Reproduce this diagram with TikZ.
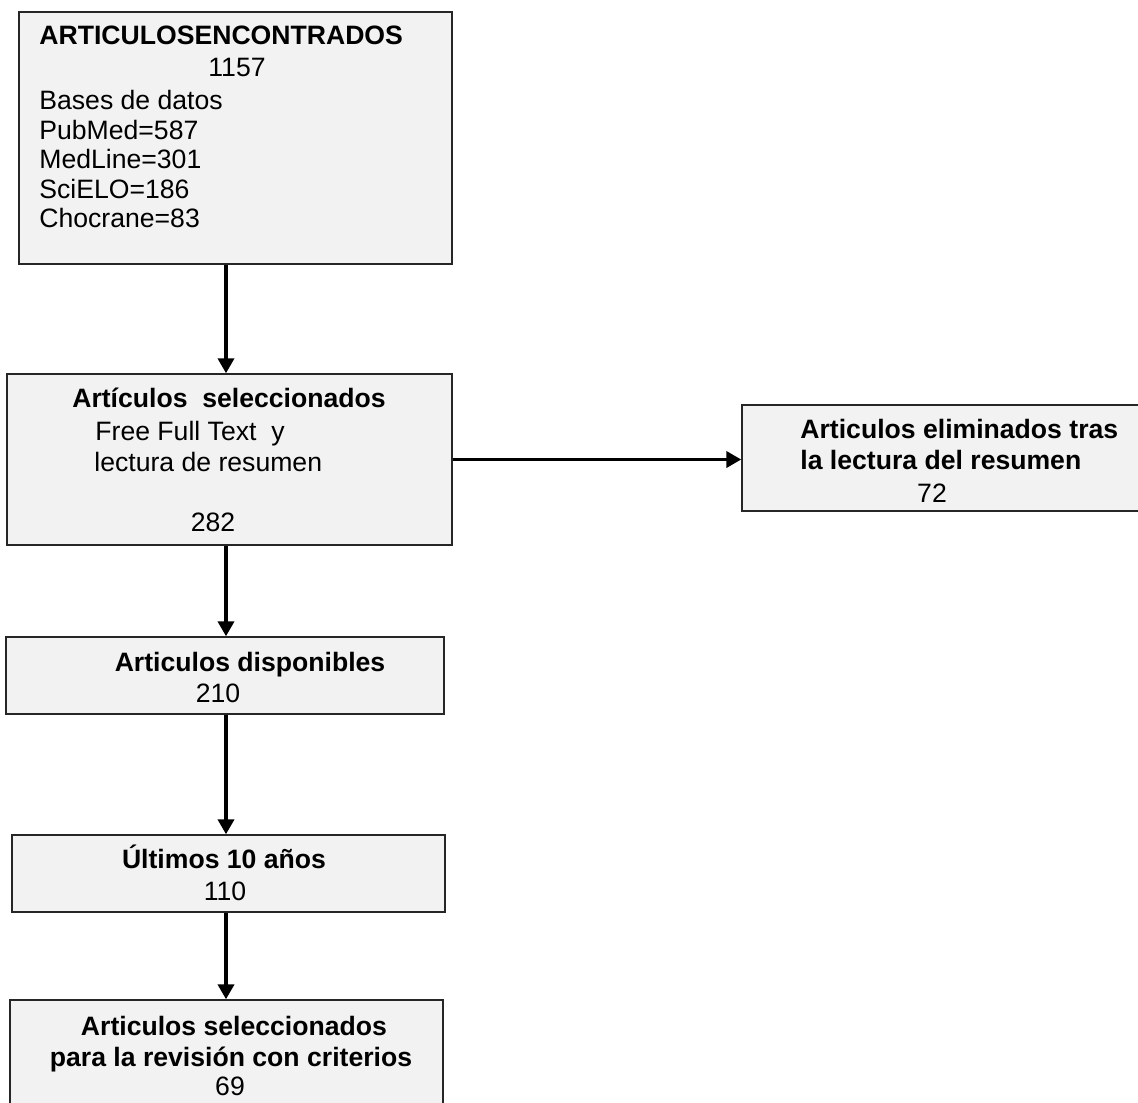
\documentclass[tikz,border=0pt]{standalone}
\usepackage{fontspec}
\setmainfont{Liberation Sans}
\usetikzlibrary{arrows.meta}

\begin{document}
\begin{tikzpicture}[x=0.5pt,y=-0.5pt,
    caja/.style={draw=black!85,line width=0.7pt,fill=black!5,inner sep=0pt},
    flecha/.style={line width=1.9pt,-{Triangle[length=7.5pt,width=8pt]}},
    txt/.style={inner sep=0pt,font=\fontsize{13.3}{16}\selectfont},
    tit/.style={inner sep=0pt,font=\fontsize{13.3}{16}\selectfont\bfseries}]

                    \useasboundingbox (0,0) rectangle (1138,1102);

                    % cajas
                    \node[caja,minimum width=216.5pt,minimum height=126pt] (encontrados) at (235.5,138) {};
                    \node[caja,minimum width=222.5pt,minimum height=85.5pt] (seleccionados) at (229.5,459.5) {};
                    \node[caja,minimum width=204pt,minimum height=53pt] (eliminados) at (946,458) {};
                    \node[caja,minimum width=219pt,minimum height=38.5pt] (disponibles) at (225,675.5) {};
                    \node[caja,minimum width=216.5pt,minimum height=38.5pt] (ultimos) at (228.5,873.5) {};
                    \node[caja,minimum width=216.5pt,minimum height=60pt] (revision) at (226.5,1060) {};

                    % textos
                    \node[tit,anchor=base west] (encT) at (39,45) {ARTICULOSENCONTRADOS};
                    \node[txt,anchor=base] (encN) at (237,76) {1157};
                    \node[txt,anchor=base west] (encB) at (39,110) {Bases de datos};
                    \node[txt,anchor=base west] (encP) at (39,139) {PubMed=587};
                    \node[txt,anchor=base west] (encM) at (39,168) {MedLine=301};
                    \node[txt,anchor=base west] (encS) at (39,198) {SciELO=186};
                    \node[txt,anchor=base west] (encC) at (39,227) {Chocrane=83};

                    \node[tit,anchor=base] (selT) at (229,407) {Artículos\ \ seleccionados};
                    \node[txt,anchor=base west] (selF) at (95,440) {Free Full Text\ \ y};
                    \node[txt,anchor=base west] (selL) at (94,471) {lectura de resumen};
                    \node[txt,anchor=base] (selN) at (213,531) {282};

                    \node[tit,anchor=base west] (eliT) at (800,438) {Articulos eliminados tras};
                    \node[tit,anchor=base west] (eliL) at (800,469) {la lectura del resumen};
                    \node[txt,anchor=base] (eliN) at (932,502) {72};

                    \node[tit,anchor=base] (disT) at (250,671) {Articulos disponibles};
                    \node[txt,anchor=base] (disN) at (218,702) {210};

                    \node[tit,anchor=base] (ultT) at (224,868) {Últimos 10 años};
                    \node[txt,anchor=base] (ultN) at (225,900) {110};

                    \node[tit,anchor=base] (revT) at (234,1035) {Articulos seleccionados};
                    \node[tit,anchor=base] (revP) at (231,1066) {para la revisión con criterios};
                    \node[txt,anchor=base] (revN) at (230,1095) {69};

                    % flechas
                    \coordinate (eje) at (226,0);
                    \draw[flecha] (encontrados.south -| eje) -- (seleccionados.north -| eje);
                    \draw[flecha] (seleccionados.south -| eje) -- (disponibles.north -| eje);
                    \draw[flecha] (disponibles.south -| eje) -- (ultimos.north -| eje);
                    \draw[flecha] (ultimos.south -| eje) -- (revision.north -| eje);
                    \draw[flecha] (seleccionados.east) -- (seleccionados.east -| eliminados.west);

                \end{tikzpicture}
\end{document}
